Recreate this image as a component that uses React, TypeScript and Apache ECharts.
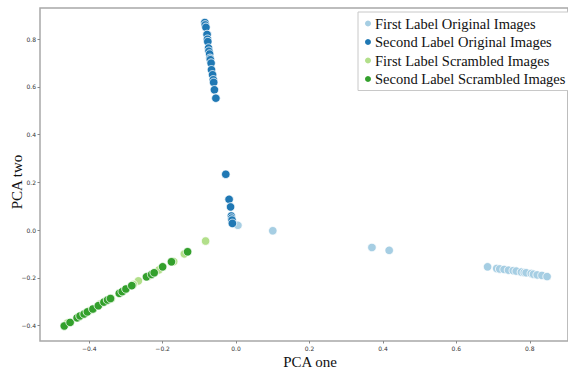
import React, { useEffect, useRef } from "react";
import * as echarts from "echarts";

const seriesNames = [
  "First Label Original Images",
  "Second Label Original Images",
  "First Label Scrambled Images",
  "Second Label Scrambled Images",
];
const seriesColors = ["#a6cee3", "#1f78b4", "#b2df8a", "#33a02c"];

const firstOriginal: number[][] = [
  [0.005, 0.02], [0.1, -0.003], [-0.012, 0.035],
  [0.37, -0.073], [0.417, -0.085],
  [0.685, -0.154], [0.71, -0.161], [0.718, -0.163], [0.73, -0.165], [0.742, -0.168],
  [0.755, -0.170], [0.763, -0.172], [0.777, -0.176], [0.785, -0.178], [0.79, -0.179],
  [0.804, -0.182], [0.81, -0.185], [0.82, -0.188], [0.833, -0.19], [0.847, -0.195],
];
const secondOriginal: number[][] = [
  [-0.085, 0.87], [-0.084, 0.86], [-0.082, 0.85], [-0.079, 0.82], [-0.078, 0.8],
  [-0.077, 0.79], [-0.075, 0.763], [-0.074, 0.75], [-0.072, 0.738], [-0.071, 0.72],
  [-0.07, 0.714], [-0.068, 0.7], [-0.067, 0.672], [-0.064, 0.651], [-0.062, 0.63],
  [-0.061, 0.619], [-0.059, 0.588], [-0.055, 0.553],
  [-0.028, 0.234], [-0.019, 0.129], [-0.015, 0.097], [-0.013, 0.059],
  [-0.012, 0.05], [-0.011, 0.042], [-0.01, 0.028],
];
const firstScrambled: number[][] = [
  [-0.083, -0.046], [-0.141, -0.1], [-0.266, -0.213],
  [-0.46, -0.39], [-0.43, -0.365], [-0.40, -0.338], [-0.37, -0.31], [-0.34, -0.287],
  [-0.31, -0.258], [-0.28, -0.228], [-0.24, -0.195], [-0.21, -0.167], [-0.17, -0.132],
];
const secondScrambled: number[][] = [
  [-0.468, -0.402], [-0.452, -0.387], [-0.433, -0.368], [-0.425, -0.36], [-0.414, -0.352],
  [-0.405, -0.343], [-0.39, -0.331], [-0.375, -0.317], [-0.36, -0.302], [-0.35, -0.293],
  [-0.342, -0.287], [-0.318, -0.265], [-0.31, -0.258], [-0.3, -0.247], [-0.284, -0.233],
  [-0.244, -0.196], [-0.23, -0.186], [-0.223, -0.179], [-0.2, -0.154], [-0.176, -0.133],
  [-0.132, -0.091],
];
const xTicks = [-0.4, -0.2, 0.0, 0.2, 0.4, 0.6, 0.8];
const yTicks = [-0.4, -0.2, 0.0, 0.2, 0.4, 0.6, 0.8];
const xName = "PCA one";
const yName = "PCA two";

const fmt = (v: number) => v.toFixed(1).replace("-", "\u2212");

export default function App() {
  const ref = useRef<HTMLDivElement>(null);
  useEffect(() => {
    if (!ref.current) return;
    const chart = echarts.init(ref.current, undefined, { renderer: "svg" });
    const allData = [firstOriginal, secondOriginal, firstScrambled, secondScrambled];
    const axisCommon = (ticks: number[]) => ({
      type: "value",
      axisLine: { show: false, onZero: false },
      splitLine: { show: false },
      axisTick: { show: true, length: 2.5, lineStyle: { color: "#888" }, customValues: ticks },
      axisLabel: {
        customValues: ticks,
        formatter: fmt,
        fontFamily: "DejaVu Sans",
        fontSize: 6,
        color: "#333",
        margin: 4,
      },
    });
    chart.setOption({
      animation: false,
      backgroundColor: "#ffffff",
      grid: {
        left: 40,
        top: 8,
        right: -5,
        bottom: 29,
        show: true,
        borderColor: "#a8a8a8",
        borderWidth: 1.5,
        backgroundColor: "transparent",
      },
      xAxis: { ...axisCommon(xTicks), min: -0.534, max: 0.904 },
      yAxis: { ...axisCommon(yTicks), min: -0.465, max: 0.931 },
      legend: {
        orient: "vertical",
        left: 358,
        top: 12,
        padding: [4, 6, 4, 5],
        itemGap: 3.5,
        itemWidth: 8,
        itemHeight: 8,
        icon: "circle",
        borderColor: "#c8c8c8",
        borderWidth: 1,
        borderRadius: 0,
        backgroundColor: "#ffffff",
        textStyle: { fontFamily: "Liberation Serif", fontSize: 14.5, color: "#111", padding: [0, 0, 0, -2] },
        data: seriesNames,
      },
      graphic: [
        {
          type: "text",
          x: 17,
          y: 182,
          rotation: Math.PI / 2,
          style: {
            text: yName,
            fontFamily: "Liberation Serif",
            fontSize: 15,
            fill: "#111",
            align: "center",
            verticalAlign: "middle",
          },
        },
        {
          type: "text",
          x: 310,
          y: 362,
          style: {
            text: xName,
            fontFamily: "Liberation Serif",
            fontSize: 15,
            fill: "#111",
            align: "center",
            verticalAlign: "middle",
          },
        },
      ],
      series: seriesNames.map((name, i) => ({
        name,
        type: "scatter",
        data: allData[i],
        symbolSize: 8.5,
        itemStyle: { color: seriesColors[i], borderColor: "#ffffff", borderWidth: 0.8, opacity: 1 },
      })),
    });
    return () => chart.dispose();
  }, []);
  return (
    <div
      ref={ref}
      style={{ position: "fixed", left: 0, top: 0, width: 568, height: 370 }}
    />
  );
}
